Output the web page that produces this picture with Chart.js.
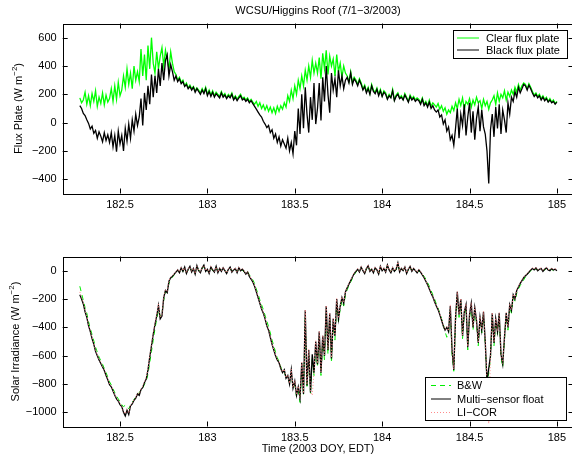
<!DOCTYPE html>
<html><head><meta charset="utf-8">
<script src="https://cdn.jsdelivr.net/npm/chart.js@4/dist/chart.umd.min.js"></script>
<style>
html,body{margin:0;padding:0;background:#fff;overflow:hidden;width:572px;height:460px;}
canvas{position:absolute;left:0;}
#c1{top:0;} #c2{top:230px;}
</style></head><body>
<canvas id="c1" width="580" height="230"></canvas>
<canvas id="c2" width="580" height="230"></canvas>
<script>
// ---- data (sample times: 182.27 + 0.01*i, DOY 2003) ----
const T0 = 182.27, DT = 0.01;
const xTicks = [182.5, 183, 183.5, 184, 184.5, 185];
const yTicksTop = [-400, -200, 0, 200, 400, 600];
const yTicksBot = [-1000, -800, -600, -400, -200, 0];

const clearPlate = [175,140,160,215,130,190,120,205,150,225,115,180,135,210,125,195,145,
170,240,150,260,165,285,190,
230,330,250,380,270,350,240,400,300,360,
290,520,330,480,300,545,380,600,
420,350,500,380,470,530,400,510,
440,380,500,420,360,
340,300,320,285,300,260,280,245,265,240,255,225,245,230,210,240,
215,250,200,230,195,225,190,215,200,185,220,190,205,175,200,185,210,170,190,165,185,200,170,180,160,175,150,165,145,
130,150,115,140,100,125,90,120,80,110,70,105,65,115,80,120,95,
140,110,190,150,230,170,260,200,300,240,330,260,370,300,400,320,440,350,420,
350,460,310,490,380,510,340,470,400,450,330,480,360,420,320,400,350,
330,290,360,280,320,300,270,310,
280,240,265,220,250,205,270,230,215,245,200,235,190,225,
210,170,200,180,235,160,195,210,175,190,165,205,180,150,195,170,185,160,175,
165,140,175,130,150,120,160,115,140,125,
110,135,95,120,80,105,60,90,70,115,85,
140,100,165,120,175,95,150,130,170,110,160,125,180,140,155,100,165,
120,150,95,140,
160,190,130,210,150,200,175,225,160,215,185,230,
200,250,215,270,230,260,280,
270,240,275,250,
220,195,210,185,200,170,190,165,180,150,170,145,160,135,150];

const blackPlate = [120,100,65,50,20,-5,-45,-25,-75,-55,-110,-65,-95,-135,-70,-125,-85,
-140,-70,-170,-90,-205,-60,-150,
-90,-200,-40,-130,-10,-110,20,-60,60,-20,
40,170,-20,210,90,260,130,340,
180,330,210,380,260,420,300,440,
480,330,410,360,300,
330,290,310,275,290,255,270,240,255,230,250,215,240,220,200,230,
205,240,190,220,185,215,180,205,190,175,210,180,195,170,190,175,200,160,180,155,175,190,160,170,150,165,140,155,135,
115,95,75,55,40,10,-10,-35,-20,-70,-50,-110,-80,-140,-100,-165,-120,
-150,-180,-110,-200,-140,-220,-60,-160,100,-80,200,-40,250,60,-70,180,20,280,-10,
100,280,15,320,150,400,200,70,350,230,310,180,370,260,330,240,300,
320,280,350,270,310,290,260,300,
270,230,255,210,240,200,260,220,205,235,190,225,185,215,
200,165,190,175,225,155,185,200,170,180,160,195,170,145,185,160,175,150,165,
155,130,165,120,140,110,145,100,120,90,
75,90,40,55,-10,20,-60,-30,-120,-90,-160,
-40,100,-110,60,-20,130,-90,40,140,-70,80,-120,30,110,-60,90,-30,
-80,-200,-430,-50,
60,-100,110,-40,130,-80,90,20,-70,140,60,180,
150,220,180,250,210,240,270,
260,230,265,240,
210,185,200,175,190,160,180,155,170,145,160,140,150,130,145];

const bwSolar = [-110,-160,-210,-260,-300,-360,-410,-450,-495,-540,-575,-610,-635,-660,-690,-720,-750,-785,-805,-835,-860,-885,-905,-925,-945,-960,-950,-960,-975,-950,-930,-910,-890,-875,-860,-845,-830,-800,-780,-730,-650,-570,-490,-410,-340,-280,-320,-300,-210,-150,-150,-90,-60,-45,-30,-15,
0,-10,15,-5,20,-15,5,25,-5,10,-20,25,5,-10,15,30,0,5,-15,20,0,-5,25,-10,10,0,15,5,-15,5,20,-5,0,10,-10,15,5,5,-10,-20,-5,-30,-45,
-65,-90,-130,-165,-205,-240,-275,-315,-355,-395,-440,-490,-530,-575,-615,-640,-680,-710,-720,-750,-760,-790,-730,-820,-800,-890,-850,-930,-700,-880,-320,-830,-600,-870,-620,-740,-540,-680,-470,-740,-490,-630,-290,-590,-330,-650,-370,-490,-230,-360,-270,-210,-250,-170,-135,-105,-80,-55,-30,-10,
5,-5,20,5,-15,10,30,0,15,-10,15,10,-20,25,5,10,-5,35,10,-10,15,0,5,45,-5,10,5,20,-15,5,25,0,10,5,-10,0,-15,
-25,-40,-60,-85,-110,-140,-170,-200,-235,-265,-300,-340,-380,-430,-470,-440,-280,-590,-710,-360,-170,-330,-220,-480,-310,-260,-560,-330,-250,-420,-280,-370,-530,-350,-440,-310,-520,-800,-720,-620,-320,-530,-360,-450,-320,-610,-680,-490,-320,-420,-260,-300,-190,-215,-160,-130,-105,-85,-65,-45,-30,-15,0,
10,0,15,5,5,10,0,5,15,0,5,10,0,5,5];

const floatSolar = [-170,-200,-235,-290,-330,-390,-430,-480,-520,-570,-600,-630,-655,-680,-705,-740,-770,-805,-820,-850,-880,-905,-920,-945,-960,-1000,-1025,-985,-1015,-955,-940,-915,-900,-870,-880,-840,-825,-790,-765,-700,-610,-530,-450,-380,-320,-245,-340,-320,-190,-140,-155,-75,-50,-40,-25,-10,
5,-15,20,-5,25,-20,10,30,-10,15,-25,35,0,-15,20,40,-5,10,-20,25,5,-10,30,-15,15,-5,20,0,-20,10,25,-10,5,15,-15,20,0,10,-5,-25,-10,-40,-60,
-80,-110,-150,-190,-230,-270,-300,-340,-390,-420,-470,-520,-560,-600,-630,-650,-690,-720,-700,-760,-740,-800,-700,-830,-780,-880,-820,-900,-650,-870,-280,-810,-560,-860,-590,-720,-500,-660,-430,-720,-460,-600,-250,-560,-300,-620,-340,-460,-200,-340,-250,-190,-230,-150,-120,-95,-70,-45,-20,-5,
10,-10,25,0,-20,15,35,-5,10,-15,20,5,-25,30,0,15,-10,40,5,-15,20,-5,10,55,-10,15,0,25,-20,10,30,-5,15,0,-15,5,-10,
-30,-50,-75,-100,-130,-160,-185,-220,-250,-275,-310,-350,-390,-420,-400,-430,-250,-560,-700,-330,-150,-310,-200,-460,-290,-240,-540,-310,-230,-400,-260,-350,-510,-330,-420,-290,-500,-780,-690,-600,-300,-510,-340,-430,-300,-590,-660,-470,-300,-400,-240,-280,-170,-200,-140,-115,-90,-70,-50,-35,-25,-10,5,
15,5,20,0,10,15,-5,10,20,5,0,15,5,10,0];

const licorSolar = [-150,-190,-225,-280,-320,-385,-425,-470,-515,-560,-595,-625,-650,-675,-700,-735,-765,-800,-815,-845,-875,-900,-915,-940,-955,-995,-1010,-980,-1005,-950,-935,-910,-895,-865,-870,-835,-815,-785,-755,-690,-600,-520,-440,-370,-310,-235,-330,-310,-180,-135,-145,-70,-45,-35,-20,-5,
10,-10,25,0,20,-15,15,25,-5,20,-20,30,5,-10,25,35,0,15,-15,30,10,-5,25,-10,20,0,25,5,-15,15,20,-5,10,20,-10,25,5,15,0,-20,-5,-35,-55,
-75,-105,-145,-185,-225,-265,-295,-335,-385,-415,-465,-515,-555,-595,-625,-645,-685,-715,-695,-755,-735,-795,-695,-825,-775,-875,-815,-895,-645,-865,-275,-805,-555,-855,-880,-715,-495,-655,-425,-715,-455,-595,-245,-555,-295,-615,-335,-455,-195,-335,-245,-185,-225,-145,-115,-90,-65,-40,-15,0,
15,-5,30,5,-15,20,40,0,15,-10,25,10,-20,35,5,20,-5,45,10,-10,25,0,15,60,-5,20,5,30,-15,15,35,0,20,5,-10,10,-5,
-25,-45,-70,-95,-125,-155,-180,-215,-245,-270,-305,-345,-385,-415,-395,-425,-240,-555,-695,-325,-145,-305,-195,-455,-285,-235,-535,-305,-225,-395,-255,-345,-505,-325,-415,-285,-495,-775,-1080,-595,-295,-505,-335,-425,-295,-585,-655,-465,-295,-395,-235,-275,-165,-195,-135,-110,-85,-65,-45,-30,-20,-5,10,
20,10,25,5,15,20,0,15,25,10,5,20,10,15,5];

// ---- helpers ----
const FONT = '"Liberation Sans", Arial, Helvetica, sans-serif';
const pts = arr => arr.map((v, i) => ({x: +(T0 + DT * i).toFixed(2), y: v}));
const fmt = v => String(v).replace('-', '\u2212');

function drawYLabel(ctx, x, yc, main, sup, tail) {
  ctx.save();
  ctx.translate(x, yc);
  ctx.rotate(-Math.PI / 2);
  ctx.fillStyle = '#000';
  ctx.textBaseline = 'middle';
  ctx.textAlign = 'left';
  const f1 = '11px ' + FONT, f2 = '8px ' + FONT;
  ctx.font = f1; const w1 = ctx.measureText(main).width; const w3 = ctx.measureText(tail).width;
  ctx.font = f2; const w2 = ctx.measureText(sup).width;
  let s = -(w1 + w2 + w3) / 2;
  ctx.font = f1; ctx.fillText(main, s, 0);
  ctx.font = f2; ctx.fillText(sup, s + w1, -4);
  ctx.font = f1; ctx.fillText(tail, s + w1 + w2, 0);
  ctx.restore();
}

const matlabPlugin = {
  id: 'matlab',
  afterDatasetsDraw(chart, args, o) {
    const {ctx, chartArea: a, scales} = chart;
    ctx.save();
    ctx.strokeStyle = '#000';
    ctx.lineWidth = 1;
    const L = 5;
    ctx.beginPath();
    scales.x.ticks.forEach(t => {
      const px = Math.round(scales.x.getPixelForValue(t.value)) + 0.5;
      ctx.moveTo(px, a.bottom); ctx.lineTo(px, a.bottom - L);
      ctx.moveTo(px, a.top); ctx.lineTo(px, a.top + L);
    });
    scales.y.ticks.forEach(t => {
      const py = Math.round(scales.y.getPixelForValue(t.value)) + 0.5;
      ctx.moveTo(a.left, py); ctx.lineTo(a.left + L, py);
      ctx.moveTo(a.right, py); ctx.lineTo(a.right - L, py);
    });
    ctx.stroke();
    ctx.strokeRect(Math.round(a.left) + 0.5, Math.round(a.top) + 0.5,
      Math.round(a.right - a.left), Math.round(a.bottom - a.top));
    ctx.restore();
  },
  afterDraw(chart, args, o) {
    const ctx = chart.ctx;
    ctx.save();
    ctx.fillStyle = '#000';
    ctx.font = '11px ' + FONT;
    ctx.textAlign = 'center';
    ctx.textBaseline = 'middle';
    if (o.title) ctx.fillText(o.title, o.titleX, o.titleY);
    if (o.xlabel) ctx.fillText(o.xlabel, o.xlabelX, o.xlabelY);
    if (o.ylabel) drawYLabel(ctx, o.ylabelX, (chart.chartArea.top + chart.chartArea.bottom) / 2, o.ylabel[0], o.ylabel[1], o.ylabel[2]);
    const lg = o.legend;
    ctx.fillStyle = '#fff';
    ctx.fillRect(lg.x0, lg.y0, lg.x1 - lg.x0, lg.y1 - lg.y0);
    ctx.strokeStyle = '#000';
    ctx.lineWidth = 1;
    ctx.strokeRect(lg.x0 + 0.5, lg.y0 + 0.5, lg.x1 - lg.x0, lg.y1 - lg.y0);
    chart.data.datasets.forEach((ds, i) => {
      const y = lg.rowY[i];
      ctx.save();
      ctx.strokeStyle = ds.borderColor;
      ctx.lineWidth = 1;
      ctx.setLineDash(ds.borderDash || []);
      ctx.beginPath();
      ctx.moveTo(lg.sx0, y + 0.5); ctx.lineTo(lg.sx1, y + 0.5);
      ctx.stroke();
      ctx.restore();
      ctx.fillStyle = '#000';
      ctx.font = '11px ' + FONT;
      ctx.textAlign = 'left';
      ctx.textBaseline = 'middle';
      ctx.fillText(ds.label, lg.tx, y + 1);
    });
    ctx.restore();
  }
};

function makeOptions(xmin, xmax, ymin, ymax, yTicks, padTop, xHeight, plug) {
  return {
    responsive: false,
    animation: false,
    events: [],
    layout: {padding: {left: 0, top: padTop, right: 580 - 573.5, bottom: 0}},
    plugins: {legend: {display: false}, tooltip: {enabled: false}, title: {display: false}, matlab: plug},
    elements: {point: {radius: 0}, line: {tension: 0}},
    scales: {
      x: {
        type: 'linear', min: xmin, max: xmax,
        grid: {display: false, drawTicks: false}, border: {display: false},
        ticks: {padding: 5, color: '#000', font: {family: FONT, size: 11}, maxRotation: 0, autoSkip: false,
          callback: v => String(v)},
        afterBuildTicks: s => { s.ticks = xTicks.map(v => ({value: v})); },
        afterFit: s => { s.height = xHeight; s.paddingLeft = 0; s.paddingRight = 0; }
      },
      y: {
        type: 'linear', min: ymin, max: ymax,
        grid: {display: false, drawTicks: false}, border: {display: false},
        ticks: {padding: 6, color: '#000', font: {family: FONT, size: 11}, callback: v => fmt(v)},
        afterBuildTicks: s => { s.ticks = yTicks.map(v => ({value: v})); },
        afterFit: s => { s.width = 62.7; s.paddingTop = 0; s.paddingBottom = 0; }
      }
    }
  };
}

new Chart(document.getElementById('c1'), {
  type: 'line',
  data: {datasets: [
    {label: 'Clear flux plate', data: pts(clearPlate), borderColor: '#00ff00', borderWidth: 1.3, order: 2},
    {label: 'Black flux plate', data: pts(blackPlate), borderColor: '#000000', borderWidth: 1.3, order: 1}
  ]},
  options: makeOptions(182.172, 185.095, -500, 700, yTicksTop, 23.5, 36.5, {
    title: 'WCSU/Higgins Roof (7/1\u22123/2003)', titleX: 318, titleY: 11,
    ylabel: ['Flux Plate (W m', '\u22122', ')'], ylabelX: 19,
    legend: {x0: 453, y0: 30, x1: 567, y1: 58, rowY: [37.5, 49.5], sx0: 457, sx1: 479, tx: 486}
  }),
  plugins: [matlabPlugin]
});

new Chart(document.getElementById('c2'), {
  type: 'line',
  data: {datasets: [
    {label: 'B&W', data: pts(bwSolar), borderColor: '#00ee00', borderWidth: 1, borderDash: [5, 4], order: 3},
    {label: 'Multi\u2212sensor float', data: pts(floatSolar), borderColor: '#000000', borderWidth: 1.3, order: 2},
    {label: 'LI\u2212COR', data: pts(licorSolar), borderColor: '#ff8a8a', borderWidth: 1, borderDash: [1, 2], order: 1}
  ]},
  options: makeOptions(182.172, 185.095, -1100, 100, yTicksBot, 26.5, 33.5, {
    xlabel: 'Time (2003 DOY, EDT)', xlabelX: 318, xlabelY: 219,
    ylabel: ['Solar Irradiance (W m', '\u22122', ')'], ylabelX: 16,
    legend: {x0: 425, y0: 147, x1: 566, y1: 190, rowY: [155, 168.5, 182], sx0: 431, sx1: 451, tx: 457}
  }),
  plugins: [matlabPlugin]
});
</script>
</body></html>
